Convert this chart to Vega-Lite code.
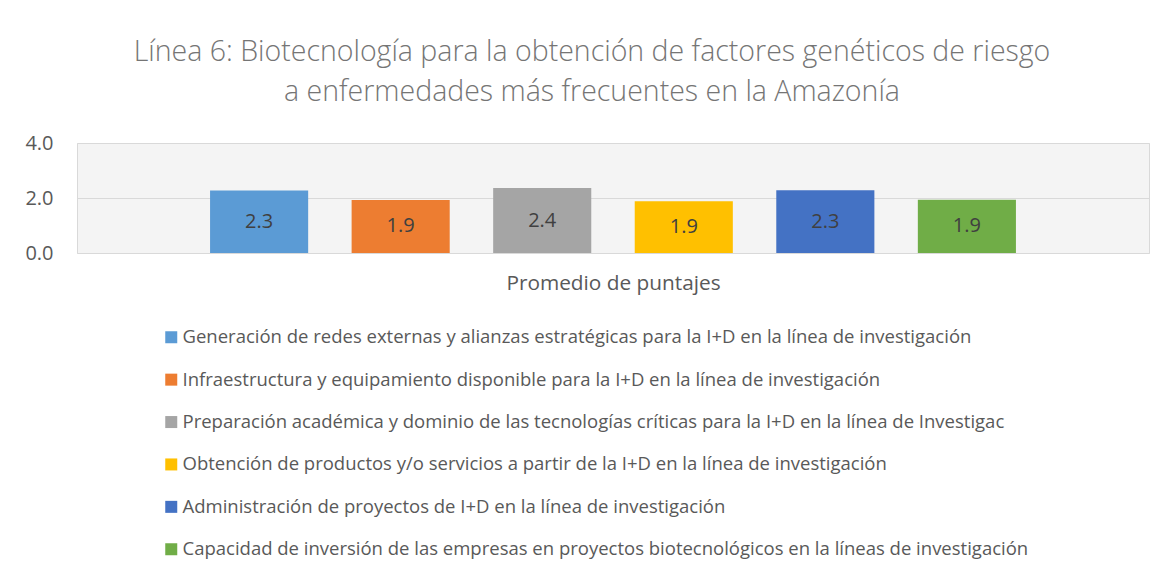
{
  "$schema": "https://vega.github.io/schema/vega-lite/v6.json",
  "autosize": {"type": "none"},
  "width": 1072,
  "height": 110,
  "padding": {"left": 77, "top": 143, "right": 18, "bottom": 316},
  "background": "white",
  "title": {
    "text": ["Línea 6: Biotecnología para la obtención de factores genéticos de riesgo", "a enfermedades más frecuentes en la Amazonía"],
    "font": "Open Sans",
    "fontSize": 28.5,
    "fontWeight": 300,
    "color": "#757575",
    "lineHeight": 40,
    "anchor": "middle",
    "dx": -21,
    "offset": 27
  },
  "config": {
    "view": {"fill": "#f4f4f4", "stroke": "#d9d9d9", "strokeWidth": 1},
    "font": "Open Sans"
  },
  "data": {
    "values": [
      {"serie": "Generación de redes externas y alianzas estratégicas para la I+D en la línea de investigación", "valor": 2.27},
      {"serie": "Infraestructura y equipamiento disponible para la I+D en la línea de investigación", "valor": 1.93},
      {"serie": "Preparación académica y dominio de las tecnologías críticas para la I+D en la línea de Investigac", "valor": 2.36},
      {"serie": "Obtención de productos y/o servicios a partir de la I+D en la línea de investigación", "valor": 1.88},
      {"serie": "Administración de proyectos de I+D en la línea de investigación", "valor": 2.28},
      {"serie": "Capacidad de inversión de las empresas en proyectos biotecnológicos en la líneas de investigación", "valor": 1.94}
    ]
  },
  "encoding": {
    "x": {
      "field": "serie",
      "type": "nominal",
      "sort": null,
      "scale": {"paddingInner": 0.307, "paddingOuter": 0.94},
      "axis": {
        "labels": false,
        "ticks": false,
        "domain": false,
        "title": "Promedio de puntajes",
        "titleFont": "Open Sans",
        "titleFontSize": 20.8,
        "titleFontWeight": "normal",
        "titleColor": "#595959",
        "titlePadding": 20
      }
    }
  },
  "layer": [
    {
      "mark": {"type": "bar"},
      "encoding": {
        "y": {
          "field": "valor",
          "type": "quantitative",
          "scale": {"domain": [0, 4]},
          "axis": {
            "values": [0, 2, 4],
            "format": ".1f",
            "title": null,
            "ticks": false,
            "domain": false,
            "grid": true,
            "gridColor": "#d9d9d9",
            "labelFont": "Open Sans",
            "labelFontSize": 20,
            "labelColor": "#595959",
            "labelPadding": 24
          }
        },
        "color": {
          "field": "serie",
          "type": "nominal",
          "sort": null,
          "scale": {"range": ["#5B9BD5", "#ED7D31", "#A5A5A5", "#FFC000", "#4472C4", "#70AD47"]},
          "legend": {
            "orient": "none",
            "legendX": 85,
            "legendY": 185,
            "direction": "vertical",
            "title": null,
            "symbolType": "square",
            "symbolSize": 144,
            "symbolStrokeWidth": 0,
            "labelFont": "Open Sans",
            "labelFontSize": 18.5,
            "labelColor": "#595959",
            "labelLimit": 1000,
            "labelOffset": 2,
            "rowPadding": 23.4,
            "padding": 0
          }
        }
      }
    },
    {
      "mark": {"type": "text", "font": "Open Sans", "fontSize": 20, "color": "#404040", "baseline": "middle"},
      "encoding": {
        "y": {"field": "valor", "type": "quantitative", "scale": {"domain": [0, 8]}, "axis": null},
        "text": {"field": "valor", "type": "quantitative", "format": ".1f"}
      }
    }
  ],
  "resolve": {"scale": {"y": "independent"}}
}
